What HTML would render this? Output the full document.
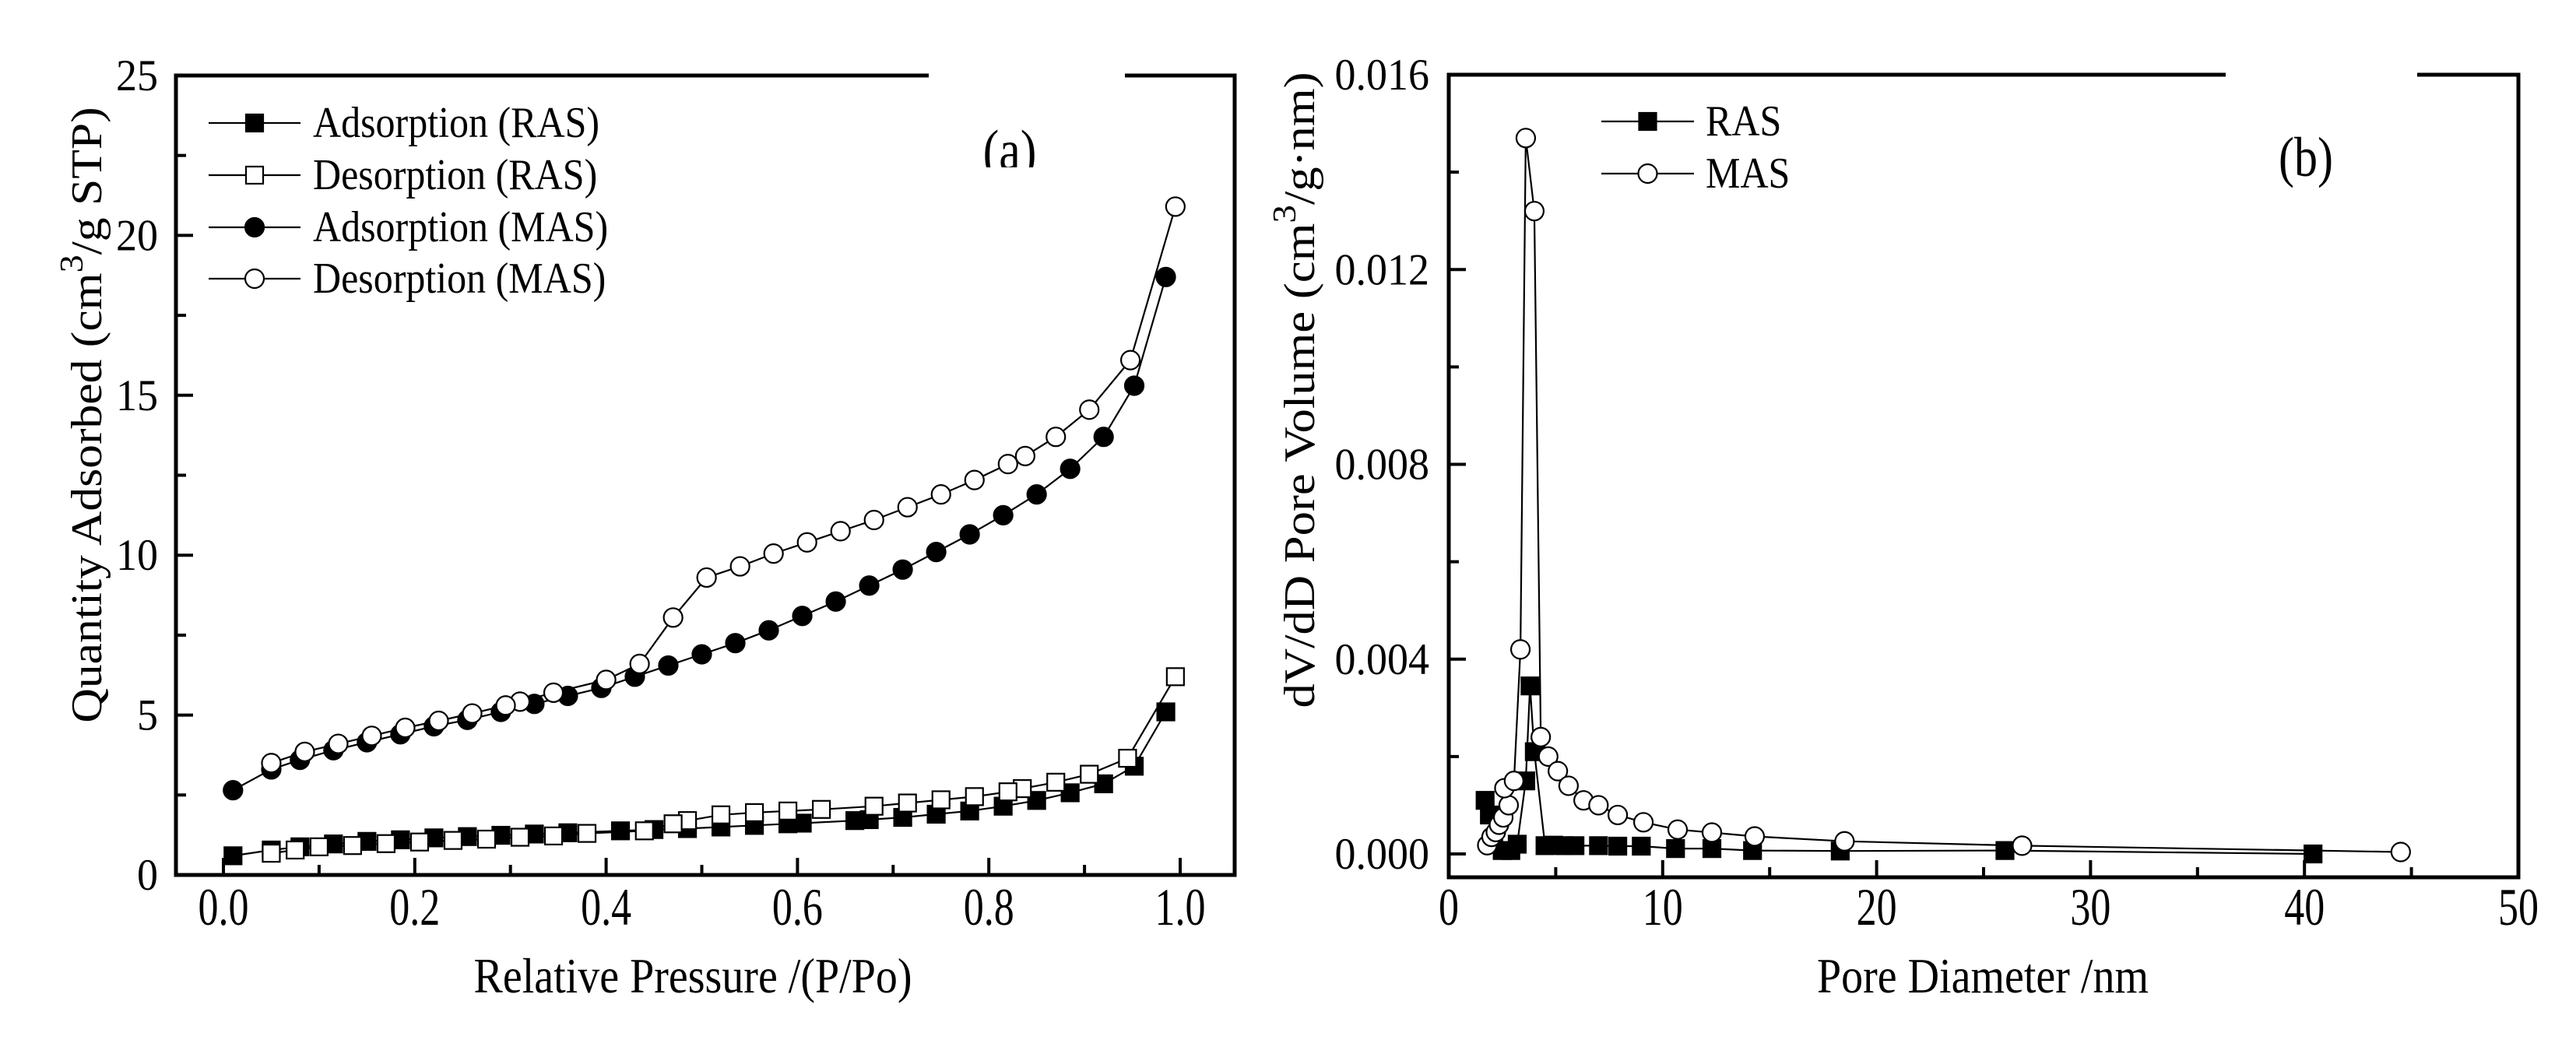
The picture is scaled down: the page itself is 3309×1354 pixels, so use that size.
<!DOCTYPE html>
<html><head><meta charset="utf-8">
<style>
html,body{margin:0;padding:0;background:#fff;}
svg{display:block;font-family:"Liberation Serif",serif;}
</style></head>
<body>
<svg id="chart" width="3309" height="1354" viewBox="0 0 3309 1354" xmlns="http://www.w3.org/2000/svg">
<defs><clipPath id="clipA" clipPathUnits="userSpaceOnUse"><rect x="1200" y="100" width="200" height="115"/></clipPath></defs>
<rect width="3309" height="1354" fill="#fff"/>
<g id="pa"></g>
<g id="pb"></g>
</svg>
<script>
// Panel (a) data
const adsRasX=[0.01,0.05,0.08,0.115,0.15,0.185,0.22,0.255,0.29,0.325,0.36,0.415,0.45,0.485,0.52,0.555,0.59,0.605,0.66,0.675,0.71,0.745,0.78,0.815,0.85,0.885,0.92,0.952,0.985];
const adsRasY=[0.6,0.78,0.88,0.97,1.05,1.1,1.16,1.2,1.24,1.28,1.32,1.38,1.42,1.45,1.5,1.55,1.6,1.62,1.7,1.73,1.8,1.9,2.0,2.15,2.33,2.57,2.85,3.4,5.1];
const desRasX=[0.995,0.945,0.905,0.87,0.835,0.82,0.785,0.75,0.715,0.68,0.625,0.59,0.555,0.52,0.485,0.47,0.44,0.38,0.345,0.31,0.275,0.24,0.205,0.17,0.135,0.1,0.075,0.05];
const desRasY=[6.2,3.65,3.15,2.9,2.7,2.6,2.45,2.35,2.25,2.15,2.05,2.0,1.95,1.88,1.7,1.6,1.38,1.3,1.22,1.18,1.12,1.08,1.03,0.98,0.92,0.88,0.78,0.68];
const adsMasX=[0.01,0.05,0.08,0.115,0.15,0.185,0.22,0.255,0.29,0.325,0.36,0.395,0.43,0.465,0.5,0.535,0.57,0.605,0.64,0.675,0.71,0.745,0.78,0.815,0.85,0.885,0.92,0.952,0.985];
const adsMasY=[2.65,3.3,3.6,3.9,4.15,4.4,4.65,4.85,5.1,5.35,5.6,5.85,6.2,6.55,6.9,7.25,7.65,8.1,8.55,9.05,9.55,10.1,10.65,11.25,11.9,12.7,13.7,15.3,18.7];
const desMasX=[0.995,0.948,0.905,0.87,0.838,0.82,0.785,0.75,0.715,0.68,0.645,0.61,0.575,0.54,0.505,0.47,0.435,0.4,0.345,0.31,0.295,0.26,0.225,0.19,0.155,0.12,0.085,0.05];
const desMasY=[20.9,16.1,14.55,13.7,13.1,12.85,12.35,11.9,11.5,11.1,10.75,10.4,10.05,9.65,9.3,8.05,6.6,6.1,5.7,5.42,5.3,5.05,4.82,4.6,4.35,4.1,3.85,3.5];
const aXTicks=[0,0.2,0.4,0.6,0.8,1.0];
const aXLabels=["0.0","0.2","0.4","0.6","0.8","1.0"];
const aYTicks=[0,5,10,15,20,25];
const aYLabels=["0","5","10","15","20","25"];
// Panel (b) data
const rasDX=[1.7,1.9,2.1,2.5,2.9,3.2,3.6,3.8,4.0,4.5,4.9,5.4,5.9,7.0,7.9,9.0,10.6,12.3,14.2,18.3,26.0,40.4];
const rasDY=[0.0011,0.0008,0.0003,0.00007,0.00007,0.0002,0.0015,0.00345,0.0021,0.00017,0.00018,0.00017,0.00017,0.00017,0.00016,0.00016,0.00011,0.00011,0.00007,0.00006,0.00007,0.0];
const masDX=[1.8,2.0,2.2,2.35,2.55,2.8,2.6,3.05,3.35,3.6,4.0,4.3,4.65,5.1,5.6,6.3,7.0,7.9,9.1,10.7,12.3,14.3,18.5,26.8,44.5];
const masDY=[0.00018,0.00035,0.00045,0.0006,0.00075,0.001,0.00135,0.0015,0.0042,0.0147,0.0132,0.0024,0.002,0.0017,0.0014,0.0011,0.001,0.0008,0.00065,0.0005,0.00044,0.00036,0.00026,0.00017,0.00004];
const bXTicks=[0,10,20,30,40,50];
const bXLabels=["0","10","20","30","40","50"];
const bYTicks=[0,0.004,0.008,0.012,0.016];
const bYLabels=["0.000","0.004","0.008","0.012","0.016"];

const NS="http://www.w3.org/2000/svg";
function mk(parent,tag,attrs,text){const e=document.createElementNS(NS,tag);for(const k in attrs)e.setAttribute(k,attrs[k]);if(text!==undefined)e.textContent=text;parent.appendChild(e);return e;}
function txt(g,x,y,s,size,sy,anchor){
  return mk(g,'text',{x:0,y:0,'font-size':size,'text-anchor':anchor||'start',transform:'translate('+x+','+y+') scale(1,'+sy+')'},s);
}

const ax={x:v=>287+v*1229, y:v=>1124-v*(1124-97)/25};
const bx={x:v=>1861+v*(3235-1861)/50, y:v=>1097-v*(1097-96)/0.016};

function frame(g,L,R,T,B,gap0,gap1){
  let e=mk(g,'rect',{x:L,y:T,width:R-L,height:B-T,fill:'none',stroke:'#000','stroke-width':5});
  
  e=mk(g,'rect',{x:gap0,y:T-5,width:gap1-gap0,height:10,fill:'#fff'});
  
}
function series(g,xs,ys,sc,shape,fill,name){
  const sg=mk(g,'g',{});
  
  let d='';xs.forEach((x,i)=>{d+=(i?'L':'M')+sc.x(x).toFixed(1)+','+sc.y(ys[i]).toFixed(1);});
  let p=mk(sg,'path',{d:d,fill:'none',stroke:'#000','stroke-width':2.2});
  
  xs.forEach((x,i)=>{marker(sg,sc.x(x),sc.y(ys[i]),shape,fill,name+'-point');});
}
function marker(g,cx,cy,shape,fill,name){
  let m;
  if(shape==='sq') m=mk(g,'rect',{x:cx-11,y:cy-11,width:22,height:22,fill:fill,stroke:'#000','stroke-width':2.2});
  else m=mk(g,'circle',{cx:cx,cy:cy,r:12,fill:fill,stroke:'#000','stroke-width':2.2});
  
}
function ticksX(g,sc,vals,labels,minor,B){
  vals.forEach((v,i)=>{
    let t=mk(g,'line',{x1:sc.x(v),x2:sc.x(v),y1:B,y2:B-22,stroke:'#000','stroke-width':4});
    
    let l=txt(g,sc.x(v),1188,labels[i],52,1.3,'middle');
    
  });
  minor.forEach(v=>{let t=mk(g,'line',{x1:sc.x(v),x2:sc.x(v),y1:B,y2:B-13,stroke:'#000','stroke-width':4});
    });
}
function ticksY(g,sc,vals,labels,minor,L,lx){
  vals.forEach((v,i)=>{
    let t=mk(g,'line',{x1:L,x2:L+22,y1:sc.y(v),y2:sc.y(v),stroke:'#000','stroke-width':4});
    
    let l=txt(g,lx,sc.y(v)+19,labels[i],54,1.05,'end');
    
  });
  minor.forEach(v=>{let t=mk(g,'line',{x1:L,x2:L+13,y1:sc.y(v),y2:sc.y(v),stroke:'#000','stroke-width':4});
    });
}
function legend(g,x0,x1,tx,y,shape,fill,label){
  const lg=mk(g,'g',{});
  
  mk(lg,'line',{x1:x0,x2:x1,y1:y,y2:y,stroke:'#000','stroke-width':2.2});
  marker(lg,(x0+x1)/2,y,shape,fill,'legend-marker');
  let t=txt(lg,tx,y+18,label,50,1.12);
  
}

// Panel a
const ga=document.getElementById('pa');
frame(ga,226,1586,97,1124,1193,1445);
ticksX(ga,ax,aXTicks,aXLabels,[0.1,0.3,0.5,0.7,0.9],1124);
ticksY(ga,ax,aYTicks,aYLabels,[2.5,7.5,12.5,17.5,22.5],226,203);
series(ga,adsRasX,adsRasY,ax,'sq','#000','series-adsorption-ras');
series(ga,desRasX,desRasY,ax,'sq','#fff','series-desorption-ras');
series(ga,adsMasX,adsMasY,ax,'ci','#000','series-adsorption-mas');
series(ga,desMasX,desMasY,ax,'ci','#fff','series-desorption-mas');
legend(ga,268,386,402,158,'sq','#000','Adsorption (RAS)');
legend(ga,268,386,402,225,'sq','#fff','Desorption (RAS)');
legend(ga,268,386,402,292,'ci','#000','Adsorption (MAS)');
legend(ga,268,386,402,358,'ci','#fff','Desorption (MAS)');
const ca=mk(ga,'g',{'clip-path':'url(#clipA)'});
let t=txt(ca,1297,218,'(a)',62,1.2,'middle');

t=txt(ga,890,1275,'Relative Pressure /(P/Po)',56,1.13,'middle');

t=mk(ga,'text',{x:0,y:0,'font-size':56,'text-anchor':'middle',transform:'translate(130,533) rotate(-90) scale(1.1,1)'});

t.innerHTML='Quantity Adsorbed (cm<tspan dy="-24" font-size="42">3</tspan><tspan dy="24">/g STP)</tspan>';

// Panel b
const gb=document.getElementById('pb');
frame(gb,1861,3235,96,1127,2859,3105);
ticksX(gb,bx,bXTicks,bXLabels,[5,15,25,35,45],1127);
ticksY(gb,bx,bYTicks,bYLabels,[0.002,0.006,0.010,0.014],1861,1836);
series(gb,rasDX,rasDY,bx,'sq','#000','series-ras');
series(gb,masDX,masDY,bx,'ci','#fff','series-mas');
legend(gb,2057,2176,2191,156,'sq','#000','RAS');
legend(gb,2057,2176,2191,223,'ci','#fff','MAS');
t=txt(gb,2962,226,'(b)',60,1.2,'middle');

t=txt(gb,2547,1275,'Pore Diameter /nm',56,1.13,'middle');

t=mk(gb,'text',{x:0,y:0,'font-size':56,'text-anchor':'middle',transform:'translate(1688,501) rotate(-90) scale(1.12,1)'});

t.innerHTML='dV/dD Pore Volume (cm<tspan dy="-24" font-size="42">3</tspan><tspan dy="24">/g·nm)</tspan>';
</script>
</body></html>
